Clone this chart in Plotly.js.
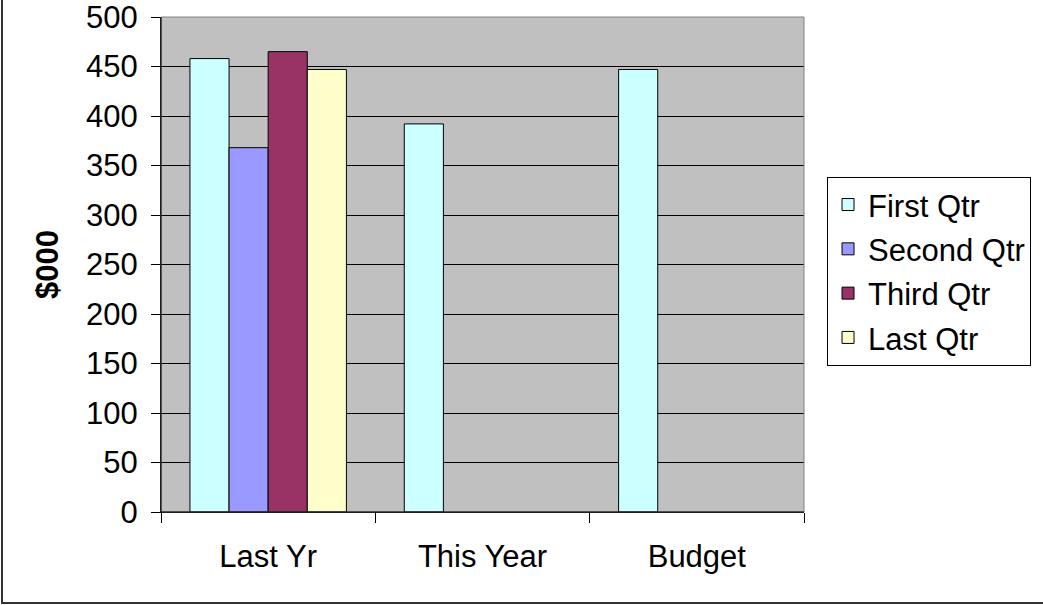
<!DOCTYPE html>
<html>
<head>
<meta charset="utf-8">
<script src="https://cdn.plot.ly/plotly-3.0.1.min.js"></script>
<style>
html,body{margin:0;padding:0;background:#fff;}
#wrap{position:relative;width:1043px;height:605px;overflow:hidden;}
#chart{width:1043px;height:605px;}
#frame{position:absolute;left:1px;top:-5px;width:1100px;height:609px;border-left:2px solid #333;border-bottom:2px solid #333;box-sizing:border-box;pointer-events:none;}
</style>
</head>
<body>
<div id="wrap">
<div id="chart"></div>
<div id="frame"></div>
</div>
<script>
const categories = ["Last Yr", "This Year", "Budget"];
const seriesNames = ["First Qtr", "Second Qtr", "Third Qtr", "Last Qtr"];
const firstQtr = [458, 392, 447];
const secondQtr = [368, null, null];
const thirdQtr = [465, null, null];
const lastQtr = [447, null, null];
const seriesColors = ["#CCFFFF", "#9999FF", "#993366", "#FFFFCC"];
const yTickVals = [0, 50, 100, 150, 200, 250, 300, 350, 400, 450, 500];

const seriesValues = [firstQtr, secondQtr, thirdQtr, lastQtr];
const font = "Liberation Sans, Arial, sans-serif";
const fs = 31;

const traces = seriesValues.map((vals, i) => ({
  type: "bar",
  name: seriesNames[i],
  legendgroup: "g" + i,
  x: categories,
  y: vals,
  marker: {color: seriesColors[i], line: {color: "#000", width: 1}},
  hoverinfo: "x+y+name"
}));

const layout = {
  width: 1043,
  height: 605,
  margin: {l: 161, r: 239, t: 17, b: 93, pad: 0},
  paper_bgcolor: "#ffffff",
  plot_bgcolor: "#c0c0c0",
  barmode: "group",
  bargap: 0.27,
  bargroupgap: 0,
  font: {family: font, size: fs, color: "#000"},
  showlegend: true,
  legend: {
    x: 1.0358, xanchor: "left",
    y: 0.677, yanchor: "top",
    bgcolor: "#fff",
    bordercolor: "#000",
    borderwidth: 1,
    font: {family: font, size: fs, color: "#000"},
    tracegroupgap: 1,
    itemwidth: 30
  },
  xaxis: {
    type: "category",
    tickson: "boundaries",
    ticks: "outside",
    ticklen: 10,
    tickcolor: "#000",
    showline: true,
    linecolor: "#000",
    linewidth: 1,
    showgrid: false,
    ticklabelstandoff: 17,
    tickfont: {family: font, size: fs, color: "#000"},
    fixedrange: true
  },
  yaxis: {
    range: [0, 500],
    tickvals: yTickVals,
    ticktext: yTickVals.map(String),
    ticks: "outside",
    ticklen: 9,
    tickcolor: "#000",
    showline: true,
    linecolor: "#000",
    linewidth: 1,
    showgrid: true,
    gridcolor: "#000",
    gridwidth: 1,
    zeroline: false,
    ticklabelstandoff: 7,
    ticklabeloverflow: "allow",
    tickfont: {family: font, size: fs, color: "#000"},
    title: {text: "<b>$000</b>", font: {family: font, size: fs, color: "#000"}, standoff: 18},
    fixedrange: true
  },
  shapes: [{
    type: "rect", xref: "paper", yref: "paper",
    x0: 0, x1: 1, y0: 0, y1: 1,
    line: {color: "#808080", width: 1},
    layer: "above"
  }, {
    type: "line", xref: "paper", yref: "paper",
    x0: 0, x1: 0, y0: 0, y1: 1,
    line: {color: "#000", width: 1},
    layer: "above"
  }, {
    type: "line", xref: "paper", yref: "paper",
    x0: 0, x1: 1, y0: 0, y1: 0,
    line: {color: "#000", width: 1},
    layer: "above"
  }]
};

Plotly.newPlot("chart", traces, layout, {displayModeBar: false, staticPlot: true});
</script>
</body>
</html>
